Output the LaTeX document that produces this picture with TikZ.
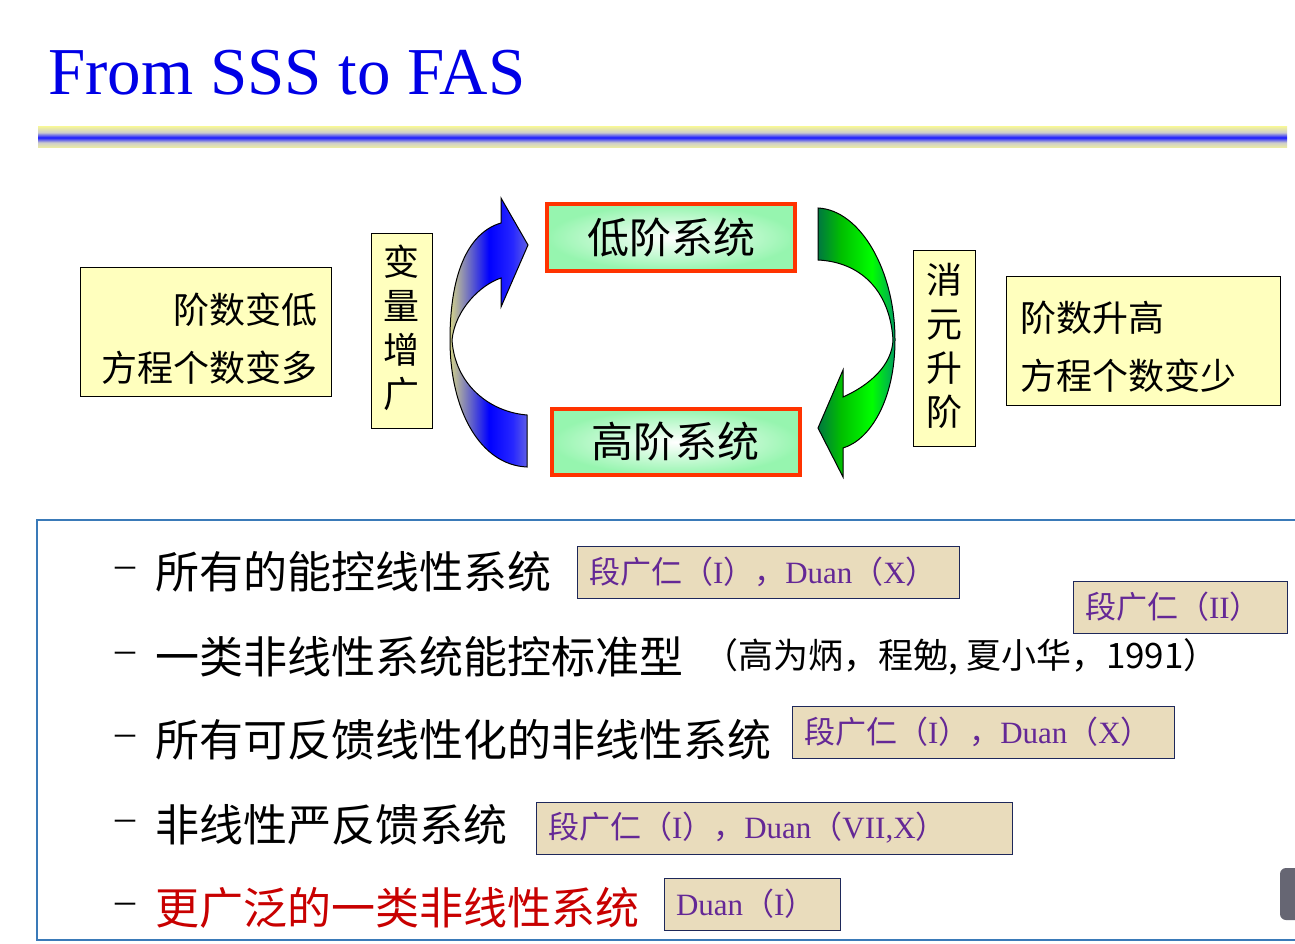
\documentclass[tikz,border=0pt]{standalone}
\usepackage{fontspec}
\setmainfont{Liberation Serif}
\newfontfamily\cjk{Noto Sans CJK SC}
\usetikzlibrary{shadings}
\definecolor{titleblue}{RGB}{0,0,230}
\definecolor{boxyellow}{RGB}{255,255,190}
\definecolor{redb}{RGB}{255,51,0}
\definecolor{lgreen}{RGB}{150,245,175}
\definecolor{paper}{RGB}{233,220,188}
\definecolor{navy}{RGB}{30,40,90}
\definecolor{purp}{RGB}{100,40,150}
\definecolor{frameblue}{RGB}{58,122,184}
\definecolor{darkred}{RGB}{200,0,0}
\pgfdeclareverticalshading{barshade}{100bp}{color(0bp)=(yellow!55);color(20bp)=(yellow!45);color(38bp)=(gray!40);color(50bp)=(blue!90);color(62bp)=(gray!40);color(80bp)=(yellow!45);color(100bp)=(yellow!55)}
\pgfdeclarehorizontalshading{leftarr}{100bp}{color(0bp)=(yellow!50);color(20bp)=(yellow!55);color(50bp)=(blue);color(65bp)=(blue!85);color(85bp)=(blue!30!gray!60);color(100bp)=(yellow!70!gray)}
\pgfdeclarehorizontalshading{rightarr}{100bp}{color(0bp)=(blue!80!black);color(15bp)=(blue!60!green!70!black);color(40bp)=(green!75!black);color(60bp)=(green);color(80bp)=(blue!50!green);color(100bp)=(blue!90!black)}
\tikzset{
  yb/.style={draw=black, fill=boxyellow, line width=0.8pt},
  sysbox/.style={draw=redb, line width=4pt, inner color=white, outer color=lgreen, minimum width=248pt, minimum height=66pt, font=\cjk\fontsize{42}{46}\selectfont},
  cite/.style={draw=navy, fill=paper, line width=1pt, inner ysep=0pt, inner xsep=12pt, align=left, text=purp, font=\fontsize{31}{34}\selectfont},
  bul/.style={anchor=west, font=\cjk\fontsize{44}{48}\selectfont},
  bulmark/.style={anchor=west, font=\fontsize{40}{44}\selectfont},
  arr/.style={draw=black, line width=1pt}
}
\begin{document}
\begin{tikzpicture}[x=1pt,y=-1pt]
\useasboundingbox (0,0) rectangle (1295,944);
\fill[white] (0,0) rectangle (1295,944);
% title
\node[anchor=base west, inner sep=0pt, text=titleblue, font=\fontsize{67}{70}\selectfont] (title) at (48,95) {From SSS to FAS};
\shade[shading=barshade] (38,127) rectangle (1287,148);
% left yellow box
\node[yb, minimum width=251pt, minimum height=129pt] (lbox) at (205.5,331.5) {};
\node[anchor=east, font=\cjk\fontsize{36}{40}\selectfont, inner sep=0pt] (l1) at (318,310) {阶数变低};
\node[anchor=east, font=\cjk\fontsize{36}{40}\selectfont, inner sep=0pt] (l2) at (318,368) {方程个数变多};
% vertical boxes
\node[yb, minimum width=61pt, minimum height=195pt] (v1) at (401.5,330.5) {};
\node[align=center, font=\cjk\fontsize{36}{44}\selectfont, inner sep=0pt] (v1t) at (401.5,328) {变\\量\\增\\广};
\node[yb, minimum width=62pt, minimum height=196pt] (v2) at (944,348) {};
\node[align=center, font=\cjk\fontsize{36}{44}\selectfont, inner sep=0pt] (v2t) at (944,346) {消\\元\\升\\阶};
% right yellow box
\node[yb, minimum width=274pt, minimum height=129pt] (rbox) at (1143,340.5) {};
\node[anchor=west, font=\cjk\fontsize{36}{40}\selectfont, inner sep=0pt] (r1) at (1020,318) {阶数升高};
\node[anchor=west, font=\cjk\fontsize{36}{40}\selectfont, inner sep=0pt] (r2) at (1020,376) {方程个数变少};
% system boxes
\node[sysbox] (low) at (671,237.5) {低阶系统};
\node[sysbox] (high) at (675.5,442) {高阶系统};
% left arrow
\path[arr, shading=leftarr] (527,467) .. controls (480,465) and (450,410) .. (450,340)
  .. controls (450,270) and (470,232) .. (501,223) -- (501,198) -- (528,245) -- (501,307) -- (501,278)
  .. controls (480,285) and (455,310) .. (452,340)
  .. controls (455,385) and (490,412) .. (527,415) -- cycle;
% right arrow
\path[arr, shading=rightarr] (818,208) .. controls (860,210) and (895,270) .. (895,340)
  .. controls (895,400) and (870,440) .. (843,448) -- (843,477) -- (818,428) -- (843,370) -- (843,397)
  .. controls (870,385) and (892,365) .. (893,340)
  .. controls (890,290) and (860,262) .. (818,260) -- cycle;
% frame
\draw[frameblue, line width=2pt] (1295,520) -- (37,520) -- (37,940) -- (1295,940);
% bullets
\foreach \y/\n in {572/a,657/b,740/c,825/d,908/e}{\node[bulmark] (d\n) at (112,\y) {--};}
\node[bul] (t1) at (152,572) {所有的能控线性系统};
\node[bul] (t2) at (152,657) {一类非线性系统能控标准型};
\node[anchor=west, font=\cjk\fontsize{35}{38}\selectfont] (t2b) at (700,657) {（高为炳，程勉, 夏小华，1991）};
\node[bul] (t3) at (152,740) {所有可反馈线性化的非线性系统};
\node[bul] (t4) at (152,825) {非线性严反馈系统};
\node[bul, text=darkred] (t5) at (152,908) {更广泛的一类非线性系统};
% citations
\node[cite, text width=358pt, minimum height=52pt] (c1) at (768,572) {{\cjk 段广仁（}I{\cjk ），}Duan{\cjk （}X{\cjk ）}};
\node[cite, text width=190pt, minimum height=52pt] (c2) at (1180,607) {{\cjk 段广仁（}II{\cjk ）}};
\node[cite, text width=358pt, minimum height=52pt] (c3) at (983,732) {{\cjk 段广仁（}I{\cjk ），}Duan{\cjk （}X{\cjk ）}};
\node[cite, text width=452pt, minimum height=52pt] (c4) at (774,828) {{\cjk 段广仁（}I{\cjk ），}Duan{\cjk （}VII,X{\cjk ）}};
\node[cite, text width=152pt, minimum height=52pt] (c5) at (752,904) {Duan{\cjk （}I{\cjk ）}};
% side widget
\fill[black!75!blue!20!gray, rounded corners=6pt] (1280,868) rectangle (1302,920);
\end{tikzpicture}
\end{document}
